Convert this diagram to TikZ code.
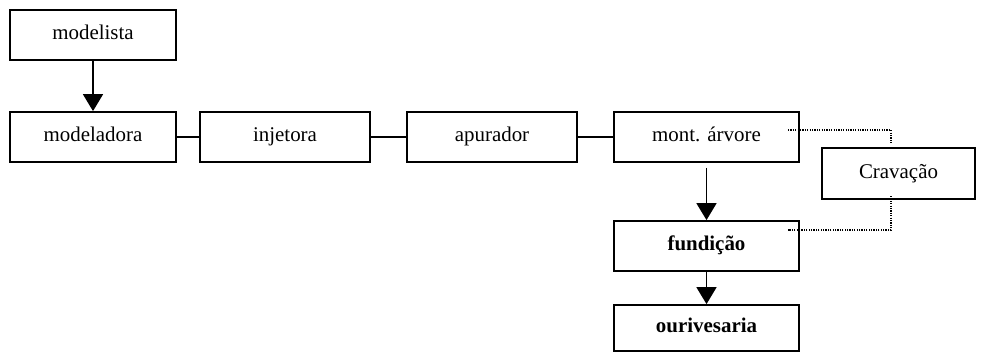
\documentclass[tikz,border=0pt]{standalone}
\usepackage{fontspec}
\setmainfont{Liberation Serif}
\usetikzlibrary{arrows.meta}
\begin{document}
\begin{tikzpicture}[x=1bp,y=-1bp,
  box/.style={draw,line width=1.8bp,rectangle,minimum height=50bp,inner sep=0pt,text height=14bp,text depth=4.6bp,font=\fontsize{21}{25}\selectfont},
  arr/.style={line width=1.8bp,-{Triangle[width=20bp,length=17bp]}},
  link/.style={line width=1.8bp},
  dots/.style={line width=1.2bp,dash pattern=on 1.2bp off 1.2bp}]
\useasboundingbox (0,0) rectangle (985,352);
\node[box,minimum width=166bp] (modelista) at (93,35) {modelista};
\node[box,minimum width=166bp] (modeladora) at (93,137) {modeladora};
\node[box,minimum width=170bp] (injetora) at (285,137) {injetora};
\node[box,minimum width=170bp] (apurador) at (492,137) {apurador};
\node[box,minimum width=185bp] (mont) at (706.5,137) {mont. árvore};
\node[box,minimum width=153bp,minimum height=51bp] (crav) at (898.5,173.5) {Cravação};
\node[box,minimum width=185bp] (fund) at (706.5,246) {\bfseries fundição};
\node[box,minimum width=185bp,minimum height=46bp] (ouri) at (706.5,328) {\bfseries ourivesaria};
\draw[arr] (modelista.south) -- (modeladora.north);
\draw[link] (modeladora.east) -- (injetora.west);
\draw[link] (injetora.east) -- (apurador.west);
\draw[link] (apurador.east) -- (mont.west);
\draw[arr] ([yshift=-5bp]mont.south) -- (fund.north);
\draw[arr] (fund.south) -- (ouri.north);
\coordinate (d1) at (788,130);
\coordinate (d2) at (891,130);
\coordinate (d3) at (891,143);
\coordinate (d4) at (891,196);
\coordinate (d5) at (891,230);
\coordinate (d6) at (788,230);
\draw[dots] (d1) -- (d2) -- (d3);
\draw[dots] (d4) -- (d5) -- (d6);
\end{tikzpicture}
\end{document}
